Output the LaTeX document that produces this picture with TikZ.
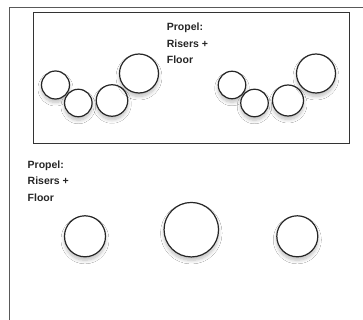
\documentclass[tikz,border=0pt]{standalone}
\usepackage{fontspec}
\setmainfont{Liberation Sans}
\usetikzlibrary{shadows,shadows.blur}
\begin{document}
\begin{tikzpicture}[x=1pt,y=-1pt,
  ring/.style={circle,draw=black!85,line width=1.2pt,fill=white,inner sep=0pt,
    blur shadow={shadow xshift=0pt,shadow yshift=-3.5pt,shadow opacity=25,shadow blur steps=8,shadow blur radius=3.5pt}},
  lbl/.style={anchor=base west,align=left,inner sep=0pt,text=black!85,
    font=\fontsize{10.5pt}{16.5pt}\selectfont\bfseries},
  frameline/.style={draw=black!65,line width=1.4pt},
  panel/.style={draw=black!80,line width=1pt}]
\useasboundingbox (0,0) rectangle (363,320);
\fill[white] (0,0) rectangle (363,320);
\coordinate (fa) at (9.5,320);
\coordinate (fb) at (9.5,7.5);
\coordinate (fc) at (363,7.5);
\draw[frameline] (fa) -- (fb) -- (fc);
\node[panel,minimum width=316.5pt,minimum height=131pt,inner sep=0pt,anchor=north west] (box) at (32.5,12) {};
% top-left group
\node[ring,minimum size=28pt] (c1) at (55.5,85) {};
\node[ring,minimum size=27.5pt] (c2) at (78.3,103) {};
\node[ring,minimum size=31.5pt] (c3) at (112,100.5) {};
\node[ring,minimum size=39pt] (c4) at (139,73.5) {};
% top-right group
\node[ring,minimum size=27.5pt] (c5) at (232,85) {};
\node[ring,minimum size=27.5pt] (c6) at (254.5,103) {};
\node[ring,minimum size=31pt] (c7) at (288,100.5) {};
\node[ring,minimum size=39pt] (c8) at (316,73.5) {};
\node[lbl] (t1) at (166.7,63.7) {Propel:\\Risers +\\Floor};
% bottom
\node[lbl] (t2) at (27.5,201.3) {Propel:\\Risers +\\Floor};
\node[ring,minimum size=41pt] (d1) at (85,236.3) {};
\node[ring,minimum size=54.5pt] (d2) at (191.3,229.7) {};
\node[ring,minimum size=41pt] (d3) at (297.3,236.3) {};
\end{tikzpicture}
\end{document}
